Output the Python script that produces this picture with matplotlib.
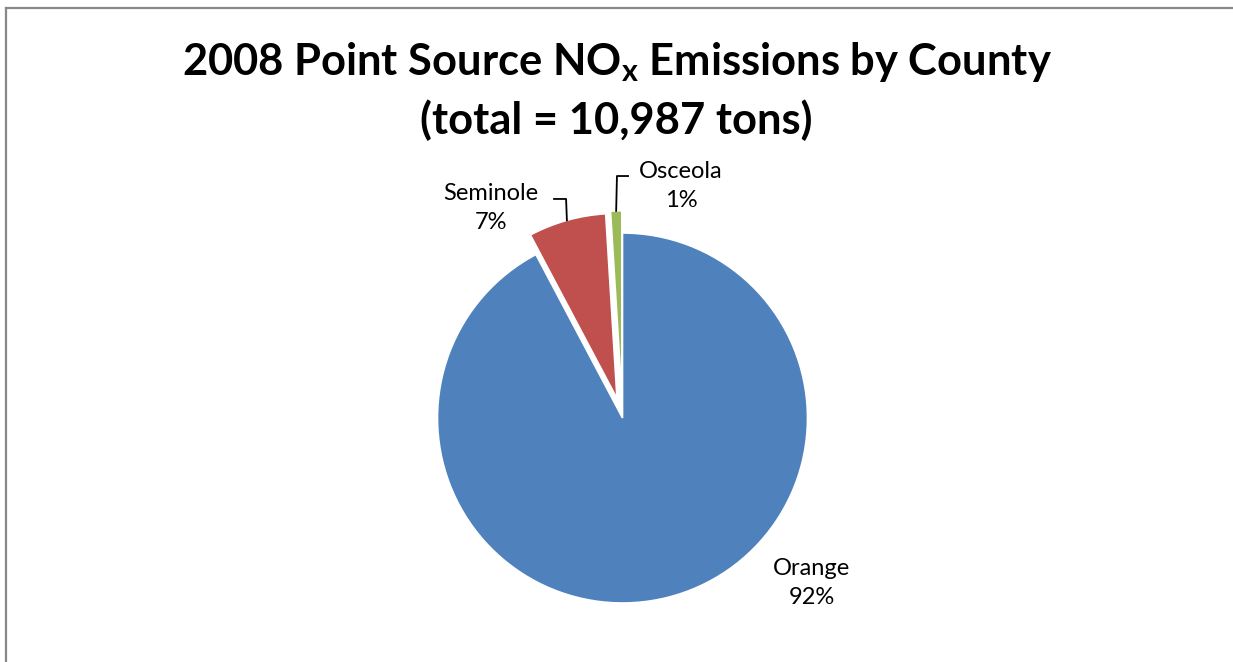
import numpy as np
import matplotlib.pyplot as plt
from matplotlib.lines import Line2D

# 2008 point source NOx emissions by county (tons)
counties = ['Orange', 'Seminole', 'Osceola']
tons = [10135, 745, 107]
colors = ['#4F81BD', '#C0504D', '#9BBB59']
explode = [0, 0.11, 0.12]

plt.rcParams['font.family'] = ['Lato', 'DejaVu Sans']

W, H = 1233, 662
fig = plt.figure(figsize=(W / 100, H / 100), dpi=100)
ax = fig.add_axes([0, 0, 1, 1])

wedges, _ = ax.pie(tons, colors=colors, explode=explode, startangle=90,
                   counterclock=False, radius=1,
                   wedgeprops=dict(edgecolor='white', linewidth=1.2))

# pie centre and radius in pixels; axis limits chosen so 1 data unit = R px
cx, cy, R = 622.5, 418, 185
ax.set_xlim(-cx / R, (W - cx) / R)
ax.set_ylim(-(H - cy) / R, cy / R)
ax.set_aspect('auto')
ax.axis('off')

total = sum(tons)
pct = [round(100 * t / total) for t in tons]

# data labels: text position, leader elbow and label end (data units)
label_pos = {
    'Orange': (1.024, -0.892),
    'Seminole': (-0.711, 1.135),
    'Osceola': (0.316, 1.254),
}
leaders = {
    'Seminole': [(-0.37, 1.184), (-0.305, 1.184)],
    'Osceola': [(0.03, 1.308), (-0.03, 1.308)],
}

for i, (name, w) in enumerate(zip(counties, wedges)):
    x, y = label_pos[name]
    ax.text(x, y, f'{name}\n{pct[i]}%', ha='center', va='center',
            fontsize=17, linespacing=1.5, color='black')
    if name in leaders:
        mid = np.deg2rad((w.theta1 + w.theta2) / 2)
        ox, oy = explode[i] * np.cos(mid), explode[i] * np.sin(mid)
        ax_, ay_ = ox + np.cos(mid), oy + np.sin(mid)
        pts = leaders[name] + [(ax_, ay_)]
        ax.plot([p[0] for p in pts], [p[1] for p in pts], color='black', lw=1.3)

fig.text(0.5, 1 - 62 / H, r'2008 Point Source NO$_\mathregular{x}$ Emissions by County',
         ha='center', va='center', fontsize=31.3, fontweight='bold')
fig.text(0.5, 1 - 120 / H, f'(total = {total:,} tons)',
         ha='center', va='center', fontsize=31.3, fontweight='bold')

# chart area border
fig.add_artist(Line2D([6 / W, 1], [1 - 8 / H, 1 - 8 / H], color='#888888', lw=1.6))
fig.add_artist(Line2D([6 / W, 6 / W], [0, 1 - 8 / H], color='#888888', lw=1.6))

fig.savefig('out.png', dpi=100, facecolor='white')
